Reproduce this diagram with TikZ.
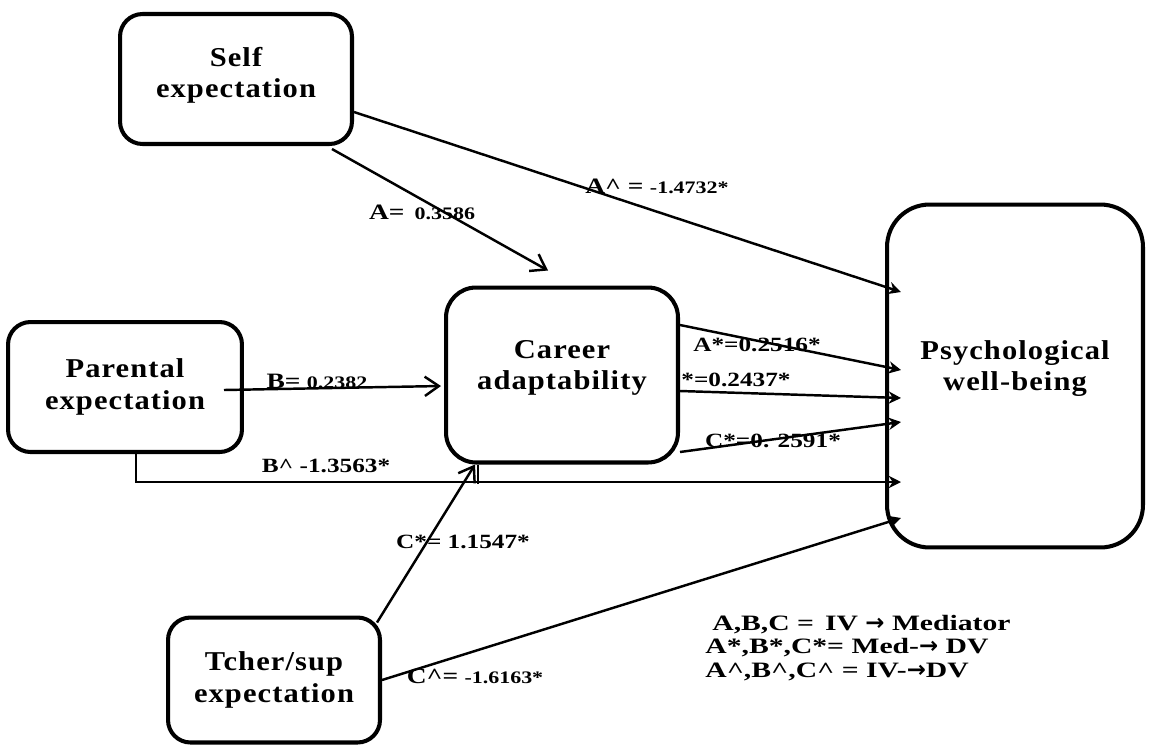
\documentclass[tikz,border=0pt]{standalone}
\usepackage{fontspec}
\setmainfont{Liberation Serif}
\newfontfamily\boxfont[LetterSpace=4, FakeStretch=1.12]{Liberation Serif}
\newfontfamily\lblfont[FakeStretch=1.25]{Liberation Serif}
\newfontfamily\legfont[FakeStretch=1.35]{Liberation Serif}
\newfontfamily\arrowfont{DejaVu Sans}
\newcommand\legarrow{{\arrowfont\bfseries\fontsize{13}{13}\selectfont →}}
\usetikzlibrary{arrows.meta,calc}
\tikzset{
  box/.style={draw, line width=2.3pt, rounded corners=0.45cm, align=center,
    font=\boxfont\bfseries\fontsize{15.5}{17.8}\selectfont, inner sep=0pt},
  link/.style={line width=1.4pt, -{Straight Barb[length=8pt,width=11pt,line width=1.4pt]}},
  pwblink/.style={line width=1.4pt, -{Stealth[length=7pt,width=7pt]}},
  lbl/.style={font=\lblfont\bfseries\fontsize{11.5}{13}\selectfont, inner sep=0pt},
}
\begin{document}
\begin{tikzpicture}[x=0.02cm, y=-0.02cm]
\useasboundingbox (0,0) rectangle (1150,745);
\node[box, minimum width=4.64cm, minimum height=2.6cm] (self) at (236,79) {Self\\expectation\\[-10pt]};
\node[box, minimum width=4.68cm, minimum height=2.6cm] (par) at (125,387) {Parental\\expectation};
\node[box, minimum width=4.64cm, minimum height=3.5cm, rounded corners=0.6cm] (car) at (562,375) {Career\\adaptability\\[-6pt]};
\node[box, minimum width=5.12cm, minimum height=6.86cm, rounded corners=0.85cm] (pwb) at (1015,376) {Psychological\\well-being\\[-6pt]};
\node[box, minimum width=4.24cm, minimum height=2.5cm] (tch) at (274,680) {Tcher/sup\\expectation};

% IV -> mediator
\draw[link] ($(self.south east)+(-22,3)$) -- ($(car.north)+(-14,-15)$);
\draw[link] ($(par.east)+(-20,3)$) -- ($(car.west)+(-3,11)$);
\draw[link] ($(tch.north east)+(-5,7)$) -- ($(car.south)+(-87,0)$);
\draw[line width=1.4pt] ($(car.south)+(-84,0)$) -- ++(0,19);

% IV -> DV
\draw[pwblink] ($(self.east)+(0,33)$) -- ($(pwb.west)+(16,-84)$);
\draw[pwblink] ($(par.south)+(11,0)$) |- ($(pwb.west)+(16,106)$);
\draw[pwblink] ($(tch.east)+(0,0)$) -- ($(pwb.west)+(16,142)$);

% Med -> DV
\draw[pwblink] ($(car.east)+(0,-50)$) -- ($(pwb.west)+(16,-6)$);
\draw[pwblink] ($(car.east)+(0,16)$) -- ($(pwb.west)+(16,22)$);
\draw[pwblink] ($(car.east)+(0,77)$) -- ($(pwb.west)+(16,46)$);

% labels
\node[lbl] (la) at (422,212) {{\fontsize{12.5}{14}\selectfont A=}\enspace{\fontsize{10}{12}\selectfont 0.3586}};
\node[lbl] (lah) at (657,186) {{\fontsize{12.5}{14}\selectfont A\textasciicircum{} =} {\fontsize{10}{12}\selectfont -1.4732*}};
\node[lbl] (lb) at (317,381) {{\fontsize{12.5}{14}\selectfont B=} {\fontsize{10}{12}\selectfont 0.2382}};
\node[lbl] (lbh) at (326,466) {B\textasciicircum{} -1.3563*};
\node[lbl] (las) at (757,345) {A*=0.2516*};
\node[lbl] (lbs) at (736,380) {*=0.2437*};
\node[lbl] (lcs) at (773,441) {C*=0. 2591*};
\node[lbl] (lc) at (463,542) {C*= 1.1547*};
\node[lbl] (lch) at (475,676) {{\fontsize{12.5}{14}\selectfont C\textasciicircum=} {\fontsize{10}{12}\selectfont -1.6163*}};

\node[inner sep=0pt, anchor=west, align=left, font=\legfont\bfseries\fontsize{12.5}{13.5}\selectfont] (legend) at (705,648)
 {\hspace{4pt}A,B,C =\enspace IV \legarrow{} Mediator\\
  A*,B*,C*= Med-\legarrow{} DV\\
  A\textasciicircum,B\textasciicircum,C\textasciicircum{} = IV-\legarrow DV};
\end{tikzpicture}
\end{document}
